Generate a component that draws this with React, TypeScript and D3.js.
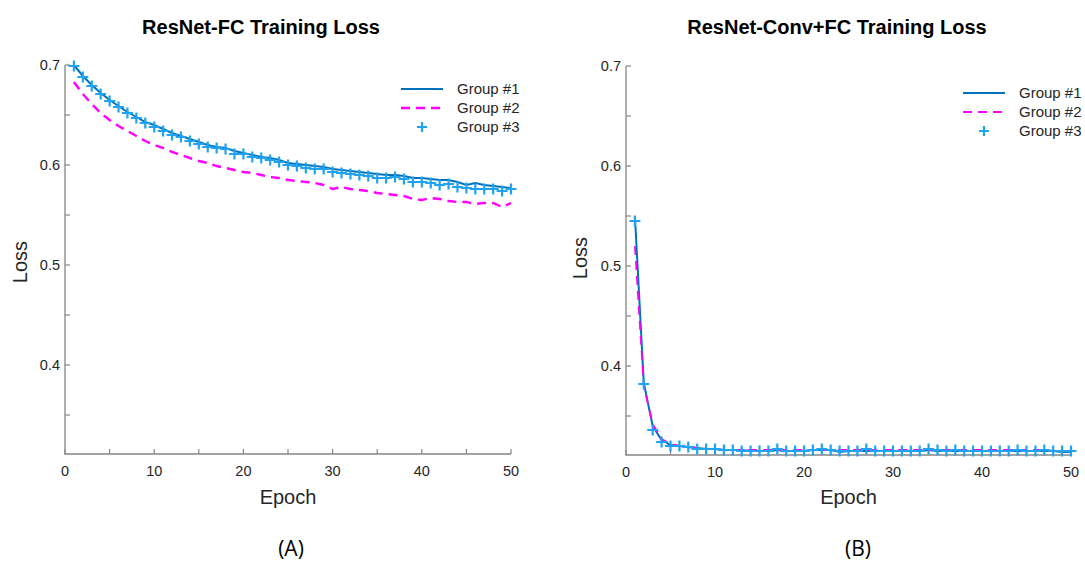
import React from "react";
import * as d3 from "d3";

const epochs = d3.range(1, 51);

const fcGroup1 = [
  0.700, 0.689, 0.680, 0.672, 0.665, 0.659, 0.653, 0.648, 0.643, 0.640,
  0.636, 0.632, 0.629, 0.626, 0.623, 0.620, 0.618, 0.617, 0.614, 0.612,
  0.610, 0.608, 0.607, 0.605, 0.602, 0.601, 0.600, 0.599, 0.598, 0.596,
  0.595, 0.594, 0.593, 0.592, 0.591, 0.590, 0.590, 0.589, 0.587, 0.587,
  0.586, 0.585, 0.585, 0.583, 0.580, 0.582, 0.580, 0.579, 0.578, 0.577,
];
const fcGroup2 = [
  0.683, 0.671, 0.661, 0.652, 0.645, 0.639, 0.634, 0.629, 0.624, 0.620,
  0.617, 0.613, 0.610, 0.607, 0.604, 0.602, 0.599, 0.597, 0.595, 0.593,
  0.592, 0.590, 0.588, 0.587, 0.585, 0.584, 0.583, 0.582, 0.580, 0.576,
  0.578, 0.576, 0.575, 0.574, 0.572, 0.571, 0.570, 0.569, 0.566, 0.565,
  0.567, 0.566, 0.564, 0.563, 0.563, 0.561, 0.562, 0.562, 0.558, 0.562,
];
const fcGroup3 = [
  0.699, 0.688, 0.679, 0.671, 0.664, 0.658, 0.652, 0.647, 0.642, 0.638,
  0.634, 0.630, 0.628, 0.624, 0.621, 0.618, 0.617, 0.616, 0.611, 0.611,
  0.608, 0.607, 0.605, 0.603, 0.600, 0.599, 0.597, 0.596, 0.596, 0.593,
  0.592, 0.591, 0.590, 0.589, 0.587, 0.587, 0.588, 0.586, 0.583, 0.583,
  0.582, 0.580, 0.581, 0.578, 0.577, 0.576, 0.576, 0.576, 0.574, 0.576,
];

const convGroup1 = [
  0.550, 0.383, 0.340, 0.326, 0.321, 0.320, 0.319, 0.318, 0.317, 0.317,
  0.316, 0.316, 0.316, 0.315, 0.315, 0.315, 0.316, 0.315, 0.315, 0.315,
  0.316, 0.316, 0.316, 0.314, 0.315, 0.315, 0.315, 0.315, 0.315, 0.315,
  0.315, 0.315, 0.315, 0.316, 0.315, 0.315, 0.315, 0.315, 0.315, 0.315,
  0.315, 0.315, 0.315, 0.315, 0.315, 0.315, 0.315, 0.315, 0.314, 0.314,
];
const convGroup2 = [
  0.520, 0.380, 0.342, 0.327, 0.322, 0.320, 0.319, 0.318, 0.317, 0.317,
  0.316, 0.316, 0.316, 0.316, 0.316, 0.316, 0.316, 0.316, 0.316, 0.316,
  0.316, 0.316, 0.316, 0.316, 0.316, 0.316, 0.316, 0.316, 0.316, 0.316,
  0.316, 0.316, 0.316, 0.316, 0.316, 0.316, 0.316, 0.316, 0.316, 0.316,
  0.316, 0.316, 0.316, 0.316, 0.316, 0.316, 0.316, 0.315, 0.315, 0.315,
];
const convGroup3 = [
  0.545, 0.382, 0.336, 0.324, 0.320, 0.320, 0.319, 0.317, 0.317, 0.317,
  0.316, 0.316, 0.315, 0.315, 0.315, 0.315, 0.317, 0.315, 0.315, 0.315,
  0.316, 0.317, 0.316, 0.315, 0.315, 0.315, 0.317, 0.315, 0.315, 0.315,
  0.315, 0.315, 0.315, 0.317, 0.316, 0.315, 0.316, 0.315, 0.315, 0.315,
  0.315, 0.315, 0.315, 0.316, 0.315, 0.315, 0.316, 0.315, 0.315, 0.315,
];

const yTickValues = [0.35, 0.4, 0.45, 0.5, 0.55, 0.6, 0.65, 0.7];
const yTickLabels = ["", "0.4", "", "0.5", "", "0.6", "", "0.7"];
const xTickValues = [0, 5, 10, 15, 20, 25, 30, 35, 40, 45, 50];
const xTickLabels = ["0", "", "10", "", "20", "", "30", "", "40", "", "50"];
const groupNames = ["Group #1", "Group #2", "Group #3"];
const panelTitles = ["ResNet-FC Training Loss", "ResNet-Conv+FC Training Loss"];
const panelLetters = ["(A)", "(B)"];
const xLabel = "Epoch";
const yLabel = "Loss";

const FONT = "'Liberation Sans', Arial, sans-serif";
const C1 = "#0072BD";
const C2 = "#FF00FF";
const C3 = "#1FA3F2";
const AXIS = "#858585";
const TXT = "#262626";

type PanelProps = {
  left: number;
  right: number;
  top: number;
  bottom: number;
  title: string;
  titleX: number;
  letter: string;
  letterX: number;
  g1: number[];
  g2: number[];
  g3: number[];
  legendX: number;
  legendY: number;
  yLabelX: number;
  yLabelY: number;
  dashWidth: number;
};

function Plus({ x, y, size = 5.5 }: { x: number; y: number; size?: number }) {
  return (
    <path
      d={`M${x - size},${y}H${x + size}M${x},${y - size}V${y + size}`}
      stroke={C3}
      strokeWidth={2.2}
      fill="none"
    />
  );
}

function Panel(p: PanelProps) {
  const xs = d3.scaleLinear().domain([0, 50]).range([p.left, p.right]);
  const ys = d3.scaleLinear().domain([0.311, 0.7]).range([p.bottom, p.top]);
  const line = d3
    .line<number>()
    .x((_, i) => xs(epochs[i]))
    .y((d) => ys(d));
  return (
    <g fontFamily={FONT}>
      <text
        x={p.titleX}
        y={34}
        textAnchor="middle"
        fontWeight="bold"
        fontSize={20}
        fill="#000"
      >
        {p.title}
      </text>
      <path
        d={`M${p.left},${ys(0.7)}V${p.bottom}H${p.right}`}
        stroke={AXIS}
        strokeWidth={1.3}
        fill="none"
      />
      {yTickValues.map((v, i) => (
        <g key={"y" + i}>
          <line x1={p.left} x2={p.left + 5} y1={ys(v)} y2={ys(v)} stroke={AXIS} strokeWidth={1.2} />
          {yTickLabels[i] && (
            <text x={p.left - 5} y={ys(v)} dy="0.35em" textAnchor="end" fontSize={14.5} fill={TXT}>
              {yTickLabels[i]}
            </text>
          )}
        </g>
      ))}
      {xTickValues.map((v, i) => (
        <g key={"x" + i}>
          <line x1={xs(v)} x2={xs(v)} y1={p.bottom} y2={p.bottom - 5} stroke={AXIS} strokeWidth={1.2} />
          {xTickLabels[i] && (
            <text x={xs(v)} y={p.bottom + 17} dy="0.35em" textAnchor="middle" fontSize={14.5} fill={TXT}>
              {xTickLabels[i]}
            </text>
          )}
        </g>
      ))}
      <text
        x={(p.left + p.right) / 2}
        y={504}
        textAnchor="middle"
        fontSize={20}
        fill={TXT}
      >
        {xLabel}
      </text>
      <text
        transform={`translate(${p.yLabelX},${p.yLabelY}) rotate(-90)`}
        textAnchor="middle"
        fontSize={20}
        fill={TXT}
      >
        {yLabel}
      </text>
      <text
        x={p.letterX}
        y={556}
        textAnchor="middle"
        fontSize={21}
        fontFamily="'Open Sans', 'DejaVu Sans', sans-serif"
        fill="#000"
      >
        {p.letter}
      </text>
      <path d={line(p.g1) || ""} stroke={C1} strokeWidth={2} fill="none" />
      <path
        d={line(p.g2) || ""}
        stroke={C2}
        strokeWidth={p.dashWidth}
        strokeDasharray="9,6"
        fill="none"
      />
      {p.g3.map((v, i) => (
        <Plus key={"m" + i} x={xs(epochs[i])} y={ys(v)} />
      ))}
      {groupNames.map((name, i) => {
        const ly = p.legendY + i * 19;
        return (
          <g key={"l" + i}>
            {i === 0 && (
              <line x1={p.legendX} x2={p.legendX + 42} y1={ly} y2={ly} stroke={C1} strokeWidth={2} />
            )}
            {i === 1 && (
              <line
                x1={p.legendX}
                x2={p.legendX + 42}
                y1={ly}
                y2={ly}
                stroke={C2}
                strokeWidth={p.dashWidth}
                strokeDasharray="9,6"
              />
            )}
            {i === 2 && <Plus x={p.legendX + 21} y={ly} size={5} />}
            <text x={p.legendX + 56} y={ly} dy="0.35em" fontSize={15} fill={TXT}>
              {name}
            </text>
          </g>
        );
      })}
    </g>
  );
}

export default function App() {
  return (
    <svg
      width={1085}
      height={563}
      style={{ position: "absolute", left: 0, top: 0, background: "#fff" }}
    >
      <rect width={1085} height={563} fill="#fff" />
      <Panel
        left={65}
        right={511}
        top={65}
        bottom={454}
        title={panelTitles[0]}
        titleX={261}
        letter={panelLetters[0]}
        letterX={291}
        g1={fcGroup1}
        g2={fcGroup2}
        g3={fcGroup3}
        legendX={401}
        legendY={89}
        yLabelX={27}
        yLabelY={262}
        dashWidth={2.4}
      />
      <Panel
        left={626}
        right={1071}
        top={66}
        bottom={455}
        title={panelTitles[1]}
        titleX={837}
        letter={panelLetters[1]}
        letterX={858}
        g1={convGroup1}
        g2={convGroup2}
        g3={convGroup3}
        legendX={963}
        legendY={93}
        yLabelX={587}
        yLabelY={258}
        dashWidth={1.8}
      />
    </svg>
  );
}
